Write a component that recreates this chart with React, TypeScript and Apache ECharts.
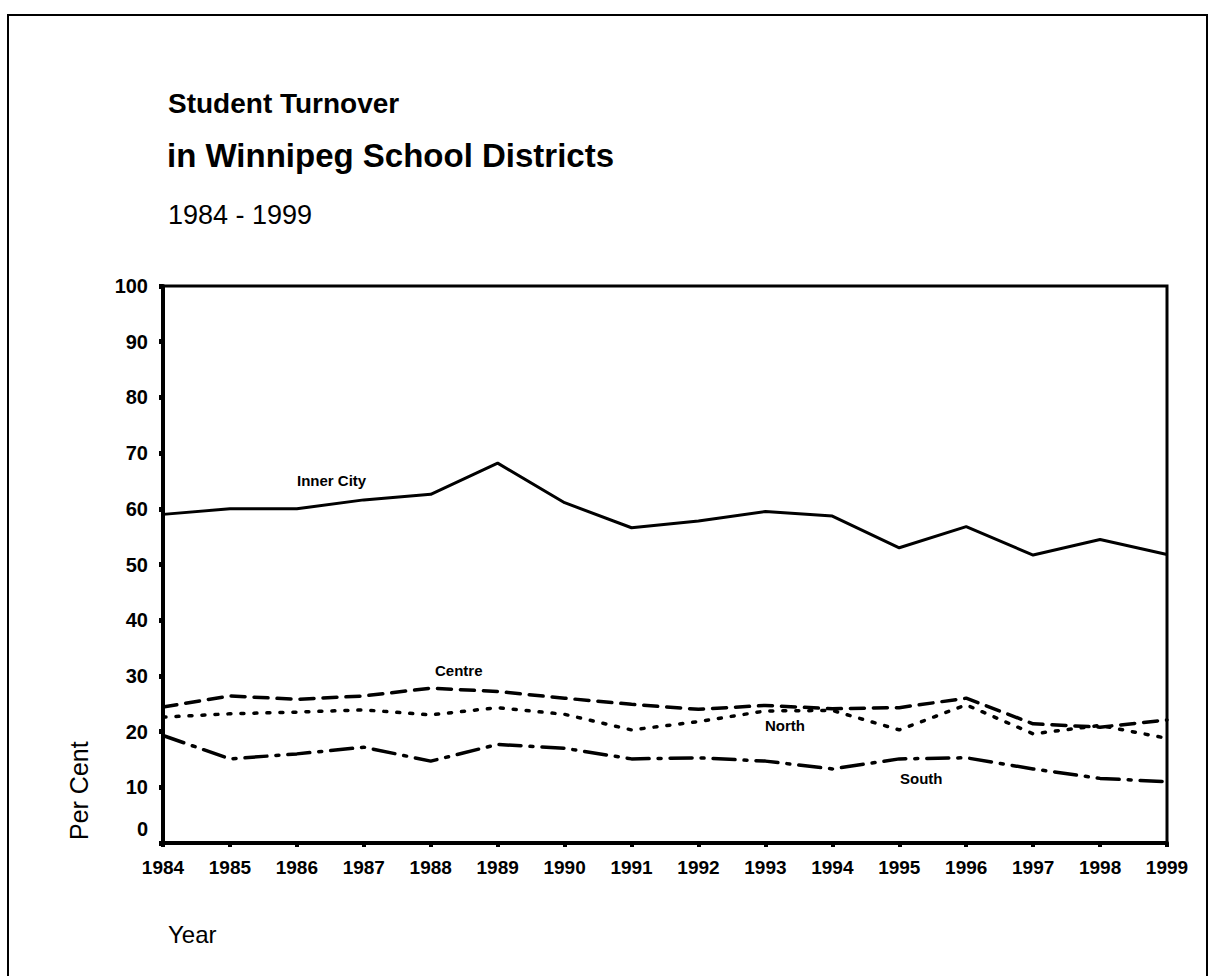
import React, { useEffect, useRef } from "react";
import * as echarts from "echarts";

const years = ["1984","1985","1986","1987","1988","1989","1990","1991","1992","1993","1994","1995","1996","1997","1998","1999"];
const innerCity = [59, 60, 60, 61.6, 62.6, 68.2, 61.1, 56.6, 57.8, 59.5, 58.7, 53, 56.8, 51.7, 54.5, 51.8];
const centre = [24.4, 26.4, 25.8, 26.4, 27.8, 27.2, 26, 24.9, 24, 24.7, 24.1, 24.3, 26, 21.4, 20.8, 22.1];
const north = [22.6, 23.2, 23.5, 23.9, 23, 24.3, 23.1, 20.3, 21.8, 23.7, 23.8, 20.3, 24.8, 19.6, 21.1, 18.8];
const south = [19.3, 15.1, 16, 17.2, 14.7, 17.7, 17, 15.1, 15.3, 14.7, 13.3, 15.1, 15.3, 13.3, 11.6, 11];

export default function App() {
  const ref = useRef<HTMLDivElement>(null);
  useEffect(() => {
    if (!ref.current) return;
    const chart = echarts.init(ref.current, null, { renderer: "svg" });
    const titleFont = "'Liberation Sans', Arial, sans-serif";
    const narrow = "'Liberation Sans Narrow', 'Liberation Sans', Arial, sans-serif";
    chart.setOption({
      animation: false,
      backgroundColor: "#ffffff",
      grid: {
        left: 163,
        right: 45,
        top: 286,
        bottom: 133,
        show: true,
        borderColor: "#000",
        borderWidth: 3,
        backgroundColor: "transparent",
      },
      xAxis: {
        type: "category",
        data: years,
        boundaryGap: false,
        axisLine: { lineStyle: { color: "#000", width: 4 } },
        axisTick: { show: true, length: 4, lineStyle: { color: "#000", width: 4 } },
        axisLabel: {
          color: "#000",
          fontFamily: narrow,
          fontWeight: "bold",
          fontSize: 19,
          margin: 15,
        },
        splitLine: { show: false },
      },
      yAxis: {
        type: "value",
        min: 0,
        max: 100,
        interval: 10,
        axisLine: { show: true, lineStyle: { color: "#000", width: 4 } },
        axisTick: { show: true, length: 4, lineStyle: { color: "#000", width: 5 } },
        axisLabel: {
          color: "#000",
          fontFamily: narrow,
          fontWeight: "bold",
          fontSize: 20,
          margin: 15,
          formatter: (v: number) => (v === 0 ? "{z|0}" : String(v)),
          rich: {
            z: {
              fontFamily: narrow,
              fontWeight: "bold",
              fontSize: 20,
              color: "#000",
              padding: [0, 0, 28, 0],
            },
          },
        },
        splitLine: { show: false },
      },
      series: [
        {
          name: "Inner City",
          type: "line",
          data: innerCity,
          symbol: "none",
          lineStyle: { color: "#000", width: 3 },
        },
        {
          name: "Centre",
          type: "line",
          data: centre,
          symbol: "none",
          lineStyle: { color: "#000", width: 3.5, type: [14, 9], cap: "round" },
        },
        {
          name: "North",
          type: "line",
          data: north,
          symbol: "none",
          lineStyle: { color: "#000", width: 3.5, type: [3, 10], cap: "round" },
        },
        {
          name: "South",
          type: "line",
          data: south,
          symbol: "none",
          lineStyle: { color: "#000", width: 3.5, type: [22, 9, 3, 9], cap: "round" },
        },
      ],
      graphic: [
        {
          type: "rect",
          shape: { x: 8, y: 15, width: 1199, height: 980 },
          style: { fill: "none", stroke: "#000", lineWidth: 2 },
          silent: true,
        },
        {
          type: "text",
          x: 168,
          y: 103,
          style: { text: "Student Turnover", font: `bold 28px ${titleFont}`, fill: "#000", verticalAlign: "middle" },
        },
        {
          type: "text",
          x: 167,
          y: 155,
          style: { text: "in Winnipeg School Districts", font: `bold 33px ${titleFont}`, fill: "#000", verticalAlign: "middle" },
        },
        {
          type: "text",
          x: 168,
          y: 215,
          style: { text: "1984 - 1999", font: `27px ${titleFont}`, fill: "#000", verticalAlign: "middle" },
        },
        {
          type: "text",
          x: 66,
          y: 840,
          rotation: Math.PI / 2,
          style: { text: "Per Cent", font: `25px ${titleFont}`, fill: "#000" },
        },
        {
          type: "text",
          x: 168,
          y: 934,
          style: { text: "Year", font: `24px ${titleFont}`, fill: "#000", verticalAlign: "middle" },
        },
        {
          type: "text",
          x: 297,
          y: 473,
          style: { text: "Inner City", font: `bold 15px ${narrow}`, fill: "#000" },
        },
        {
          type: "text",
          x: 435,
          y: 663,
          style: { text: "Centre", font: `bold 15px ${narrow}`, fill: "#000" },
        },
        {
          type: "text",
          x: 765,
          y: 718,
          style: { text: "North", font: `bold 15px ${narrow}`, fill: "#000" },
        },
        {
          type: "text",
          x: 900,
          y: 771,
          style: { text: "South", font: `bold 15px ${narrow}`, fill: "#000" },
        },
      ],
    });
    return () => chart.dispose();
  }, []);
  return (
    <div
      ref={ref}
      style={{ position: "fixed", left: 0, top: 0, width: 1212, height: 976, background: "#fff" }}
    />
  );
}
